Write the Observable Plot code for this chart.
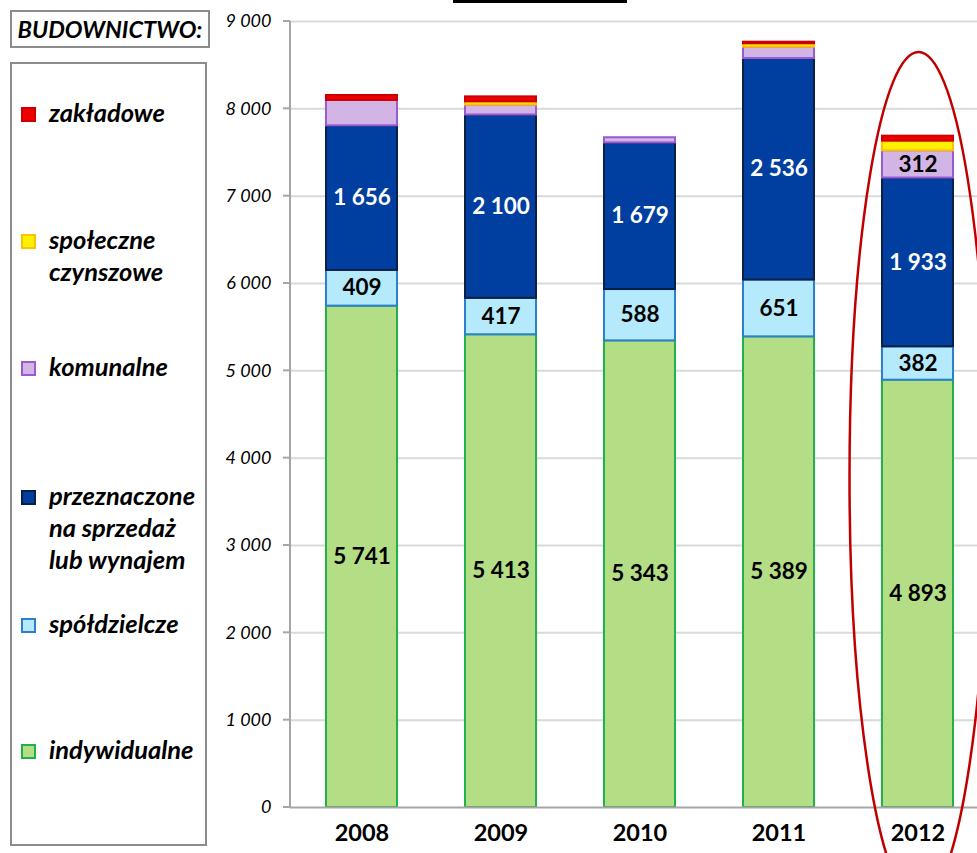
<!DOCTYPE html>
<html><head><meta charset="utf-8">
<script src="https://cdn.jsdelivr.net/npm/d3@7"></script>
<script src="https://cdn.jsdelivr.net/npm/@observablehq/plot@0.6"></script>
<style>
html,body{margin:0;padding:0;background:#fff;overflow:hidden;}
body{width:977px;height:853px;position:relative;font-family:Lato,"Open Sans",sans-serif;}
#chart{position:absolute;left:0;top:0;}
.box{position:absolute;border:2px solid #8c8c8c;box-sizing:border-box;background:#fff;}
.leg{position:absolute;left:49px;font-weight:bold;font-style:italic;font-size:25.5px;line-height:32px;color:#000;white-space:nowrap;}
.sw{position:absolute;left:21px;width:15px;height:15px;box-sizing:border-box;border:2px solid;}
#uline{position:absolute;left:453px;top:0;width:174px;height:3px;background:#000;}
</style></head><body>
<div id="chart"></div>
<div id="uline"></div>
<div class="box" style="left:10px;top:10px;width:200px;height:38px;"><div style="text-align:center;font-weight:bold;font-style:italic;font-size:23.5px;line-height:34px;">BUDOWNICTWO:</div></div>
<div class="box" id="legend" style="left:10px;top:62px;width:197px;height:784px;"></div>
<script>
// ---- data ----
const years = ["2008", "2009", "2010", "2011", "2012"];
const indywidualne = [5741, 5413, 5343, 5389, 4893];
const spoldzielcze = [409, 417, 588, 651, 382];
const przeznaczone = [1656, 2100, 1679, 2536, 1933];
const komunalne = [290, 113, 59, 130, 312];
const spoleczne = [0, 37, 0, 39, 110];
const zakladowe = [57, 57, 0, 18, 57];
const komunalneLabel = [false, false, false, false, true];
const yTicks = [0, 1000, 2000, 3000, 4000, 5000, 6000, 7000, 8000, 9000];

const seriesNames = ["indywidualne", "spółdzielcze", "przeznaczone", "komunalne", "społeczne", "zakładowe"];
const seriesValues = [indywidualne, spoldzielcze, przeznaczone, komunalne, spoleczne, zakladowe];
const seriesFill = ["#b4de86", "#b5e9fc", "#003f9f", "#d3b5e5", "#fff200", "#ee0000"];
const seriesStroke = ["#22b04b", "#2a7fcf", "#0c1f44", "#9a5ad2", "#ffc000", "#cc0000"];
const seriesTextColor = ["#000", "#000", "#fff", "#000", "#000", "#000"];
const seriesLabels = [
  [true, true, true, true, true],
  [true, true, true, true, true],
  [true, true, true, true, true],
  komunalneLabel,
  [false, false, false, false, false],
  [false, false, false, false, false]
];

// legend (top to bottom)
const legendNames = ["zakładowe", "społeczne|czynszowe", "komunalne", "przeznaczone|na sprzedaż|lub wynajem", "spółdzielcze", "indywidualne"];
const legendSeries = [5, 4, 3, 2, 1, 0];
const legendCenters = [114, 241, 368, 497, 625, 751];

const locale = d3.formatLocale({thousands: " ", grouping: [3], decimal: ","});
const fmt = locale.format(",d");

const rows = [];
seriesNames.forEach((s, i) => {
  years.forEach((y, j) => {
    const v = seriesValues[i][j];
    if (v > 0) rows.push({year: y, series: s, value: v, fill: seriesFill[i], stroke: seriesStroke[i],
      textColor: seriesTextColor[i], show: seriesLabels[i][j]});
  });
});

const plot = Plot.plot({
  width: 977, height: 853,
  marginLeft: 290, marginRight: -12, marginTop: 21, marginBottom: 46,
  style: {fontFamily: "Lato, 'Open Sans', sans-serif", background: "white", overflow: "visible"},
  x: {domain: years, paddingInner: 0.49, paddingOuter: 0.25, axis: null},
  y: {domain: [0, 9000], axis: null},
  color: {type: "identity"},
  marks: [
    Plot.ruleY(yTicks.filter(d => d > 0), {stroke: "#d9d9d9", strokeWidth: 2}),
    Plot.barY(rows, Plot.stackY({x: "year", y: "value", z: "series", order: seriesNames,
      fill: d => d.fill, stroke: d => d.stroke, strokeWidth: 2})),
    Plot.text(rows, Plot.stackY({x: "year", y: "value", z: "series", order: seriesNames,
      text: d => d.show ? fmt(d.value) : "", fill: d => d.textColor, fontWeight: "bold", fontSize: 22.5})),
    Plot.ruleY([0], {stroke: "#a6a6a6", strokeWidth: 2}),
    Plot.text(yTicks, {y: d => d, text: d => fmt(d), frameAnchor: "left", textAnchor: "end", dx: -19,
      fontStyle: "italic", fontSize: 18, fill: "#000"}),
    Plot.text(years, {x: d => d, text: d => d, frameAnchor: "bottom", dy: 33, fontWeight: "bold", fontSize: 23.5, fill: "#000"})
  ]
});
document.getElementById("chart").appendChild(plot);

// decorations from the plot's own scales
const sx = plot.scale("x"), sy = plot.scale("y");
const X = d3.scaleBand(sx.domain, sx.range).paddingInner(sx.paddingInner).paddingOuter(sx.paddingOuter).align(sx.align ?? 0.5);
const Y = d3.scaleLinear(sy.domain, sy.range);
const svg = d3.select(plot);
const g = svg.append("g");
const x0 = sx.range[0];
g.append("line").attr("x1", x0).attr("x2", x0).attr("y1", Y(9000)).attr("y2", Y(0))
  .attr("stroke", "#a6a6a6").attr("stroke-width", 2);
yTicks.forEach(t => {
  g.append("line").attr("x1", x0 - 7).attr("x2", x0).attr("y1", Y(t)).attr("y2", Y(t))
    .attr("stroke", "#a6a6a6").attr("stroke-width", 2);
});
// highlight ellipse around last year
const last = years[years.length - 1];
const cx = X(last) + X.bandwidth() / 2;
const yTop = 8645, yBottom = -1100;
g.append("ellipse").attr("cx", cx).attr("cy", (Y(yTop) + Y(yBottom)) / 2)
  .attr("rx", X.bandwidth() * 0.97).attr("ry", (Y(yBottom) - Y(yTop)) / 2)
  .attr("fill", "none").attr("stroke", "#c00000").attr("stroke-width", 2.5);

// legend
const legend = document.getElementById("legend");
legendNames.forEach((name, k) => {
  const i = legendSeries[k], c = legendCenters[k] - 62 - 2;
  const sw = document.createElement("div");
  sw.className = "sw";
  sw.style.left = (21 - 12) + "px";
  sw.style.top = (c - 7.5) + "px";
  sw.style.background = seriesFill[i];
  sw.style.borderColor = seriesStroke[i];
  legend.appendChild(sw);
  const t = document.createElement("div");
  t.className = "leg";
  t.style.left = (49 - 12) + "px";
  t.style.top = (c - 18.5) + "px";
  t.innerHTML = name.split("|").join("<br>");
  legend.appendChild(t);
});
</script>
</body></html>
